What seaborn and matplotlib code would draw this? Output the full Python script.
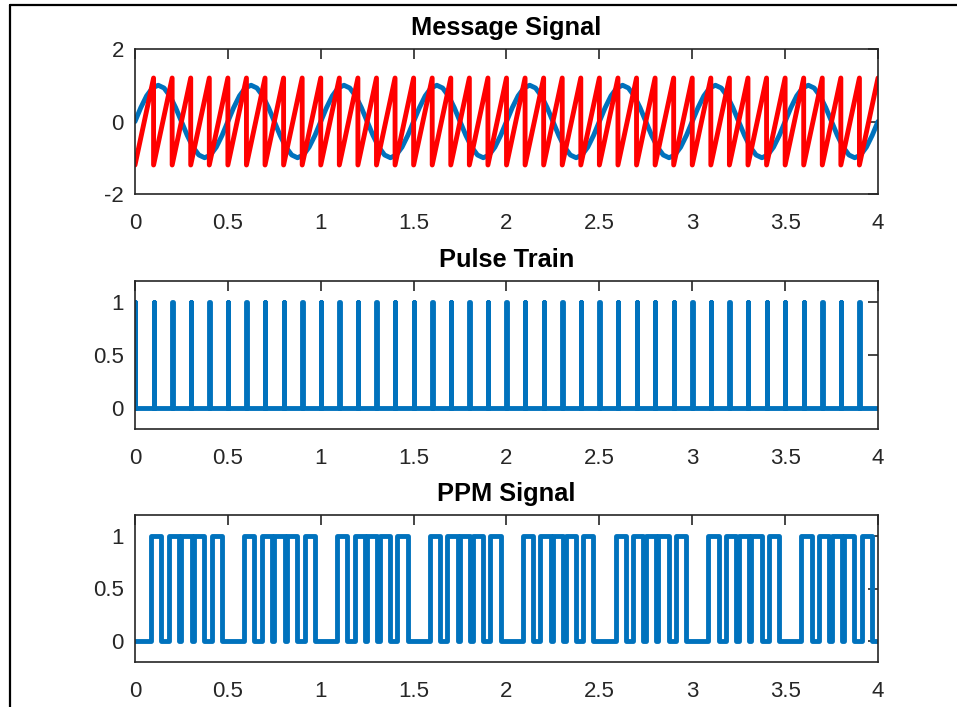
import numpy as np
import pandas as pd
import matplotlib
matplotlib.use("Agg")
import matplotlib.pyplot as plt
from matplotlib.lines import Line2D
import seaborn as sns

# ---------------- data ----------------
# Message signal, one sample every 1/32 s from t = 0 to t = 4 s
message_values = [
    0.000, 0.383, 0.707, 0.924, 1.000, 0.924, 0.707, 0.383, 0.000, -0.383, -0.707, -0.924, -1.000, -0.924, -0.707, -0.383,
    0.000, 0.383, 0.707, 0.924, 1.000, 0.924, 0.707, 0.383, 0.000, -0.383, -0.707, -0.924, -1.000, -0.924, -0.707, -0.383,
    0.000, 0.383, 0.707, 0.924, 1.000, 0.924, 0.707, 0.383, 0.000, -0.383, -0.707, -0.924, -1.000, -0.924, -0.707, -0.383,
    0.000, 0.383, 0.707, 0.924, 1.000, 0.924, 0.707, 0.383, 0.000, -0.383, -0.707, -0.924, -1.000, -0.924, -0.707, -0.383,
    0.000, 0.383, 0.707, 0.924, 1.000, 0.924, 0.707, 0.383, 0.000, -0.383, -0.707, -0.924, -1.000, -0.924, -0.707, -0.383,
    0.000, 0.383, 0.707, 0.924, 1.000, 0.924, 0.707, 0.383, 0.000, -0.383, -0.707, -0.924, -1.000, -0.924, -0.707, -0.383,
    0.000, 0.383, 0.707, 0.924, 1.000, 0.924, 0.707, 0.383, 0.000, -0.383, -0.707, -0.924, -1.000, -0.924, -0.707, -0.383,
    0.000, 0.383, 0.707, 0.924, 1.000, 0.924, 0.707, 0.383, 0.000, -0.383, -0.707, -0.924, -1.000, -0.924, -0.707, -0.383,
    0.000,
]
t_start, t_end = 0.0, 4.0

# Sawtooth carrier: tooth boundaries and levels
saw_edges = [0.0, 0.1, 0.2, 0.3, 0.4, 0.5, 0.6, 0.7, 0.8, 0.9,
             1.0, 1.1, 1.2, 1.3, 1.4, 1.5, 1.6, 1.7, 1.8, 1.9,
             2.0, 2.1, 2.2, 2.3, 2.4, 2.5, 2.6, 2.7, 2.8, 2.9,
             3.0, 3.1, 3.2, 3.3, 3.4, 3.5, 3.6, 3.7, 3.8, 3.9, 4.0]
saw_low = -1.2
saw_high = 1.2

# Pulse train: pulse instants (height 1)
pulse_times = [0.0, 0.1, 0.2, 0.3, 0.4, 0.5, 0.6, 0.7, 0.8, 0.9,
               1.0, 1.1, 1.2, 1.3, 1.4, 1.5, 1.6, 1.7, 1.8, 1.9,
               2.0, 2.1, 2.2, 2.3, 2.4, 2.5, 2.6, 2.7, 2.8, 2.9,
               3.0, 3.1, 3.2, 3.3, 3.4, 3.5, 3.6, 3.7, 3.8, 3.9]
pulse_duration = 0.002

# PPM signal: start and end time of every high pulse
ppm_starts = [0.087, 0.182, 0.250, 0.318, 0.413,
              0.587, 0.682, 0.750, 0.818, 0.913,
              1.087, 1.182, 1.250, 1.318, 1.413,
              1.587, 1.682, 1.750, 1.818, 1.913,
              2.087, 2.182, 2.250, 2.318, 2.413,
              2.587, 2.682, 2.750, 2.818, 2.913,
              3.087, 3.182, 3.250, 3.318, 3.413,
              3.587, 3.682, 3.750, 3.818, 3.913]
ppm_ends = [0.142, 0.237, 0.305, 0.373, 0.468,
            0.642, 0.737, 0.805, 0.873, 0.968,
            1.142, 1.237, 1.305, 1.373, 1.468,
            1.642, 1.737, 1.805, 1.873, 1.968,
            2.142, 2.237, 2.305, 2.373, 2.468,
            2.642, 2.737, 2.805, 2.873, 2.968,
            3.142, 3.237, 3.305, 3.373, 3.468,
            3.642, 3.737, 3.805, 3.873, 3.968]

titles = ["Message Signal", "Pulse Train", "PPM Signal"]
x_ticks = [0, 0.5, 1, 1.5, 2, 2.5, 3, 3.5, 4]
x_tick_labels = ["0", "0.5", "1", "1.5", "2", "2.5", "3", "3.5", "4"]
y_ticks_msg = [-2, 0, 2]
y_tick_labels_msg = ["-2", "0", "2"]
y_ticks_pulse = [0, 0.5, 1]
y_tick_labels_pulse = ["0", "0.5", "1"]

# ---------------- build tables ----------------
msg_df = pd.DataFrame({"t": np.linspace(t_start, t_end, len(message_values)),
                       "v": message_values})

saw_t, saw_v = [], []
for a, b in zip(saw_edges[:-1], saw_edges[1:]):
    saw_t += [a, b]
    saw_v += [saw_low, saw_high]
saw_df = pd.DataFrame({"t": saw_t, "v": saw_v})

pt, pv = [], []
for p in pulse_times:
    pt += [p, p, p + pulse_duration, p + pulse_duration]
    pv += [0, 1, 1, 0]
pt.append(t_end)
pv.append(0)
pulse_df = pd.DataFrame({"t": pt, "v": pv})

qt, qv = [t_start], [0]
for s, e in zip(ppm_starts, ppm_ends):
    qt += [s, s, e, e]
    qv += [0, 1, 1, 0]
qt.append(t_end)
qv.append(0)
ppm_df = pd.DataFrame({"t": qt, "v": qv})

# ---------------- style ----------------
sns.set_style("white")
plt.rcParams["font.family"] = ["Liberation Sans", "DejaVu Sans"]

BLUE = "#0072BD"
RED = "#FF0000"
AXC = "#262626"

W, H = 957, 707
fig = plt.figure(figsize=(W / 100, H / 100), dpi=100)
fig.patch.set_facecolor("white")

boxes = [(49, 194), (281, 429), (515, 662)]
left_px, right_px = 135, 878
axes = []
for top, bot in boxes:
    ax = fig.add_axes([left_px / W, 1 - bot / H, (right_px - left_px) / W, (bot - top) / H])
    axes.append(ax)

line_kw = dict(linewidth=3.5, sort=False, estimator=None, legend=False,
               solid_joinstyle="round", solid_capstyle="round")

sns.lineplot(data=msg_df, x="t", y="v", color=BLUE, ax=axes[0], **line_kw)
sns.lineplot(data=saw_df, x="t", y="v", color=RED, ax=axes[0], **line_kw)
sns.lineplot(data=pulse_df, x="t", y="v", color=BLUE, ax=axes[1], **line_kw)
sns.lineplot(data=ppm_df, x="t", y="v", color=BLUE, ax=axes[2], **line_kw)

ylims = [(-2, 2), (-0.2, 1.2), (-0.2, 1.2)]
yticks = [(y_ticks_msg, y_tick_labels_msg), (y_ticks_pulse, y_tick_labels_pulse),
          (y_ticks_pulse, y_tick_labels_pulse)]
for ax, title, yl, (yt, ytl) in zip(axes, titles, ylims, yticks):
    ax.set_xlim(t_start, t_end)
    ax.set_ylim(*yl)
    ax.set_xticks(x_ticks)
    ax.set_xticklabels(x_tick_labels)
    ax.set_yticks(yt)
    ax.set_yticklabels(ytl)
    ax.set_xlabel("")
    ax.set_ylabel("")
    ax.set_title(title, fontsize=18.3, fontweight="bold", color="black", pad=10)
    for sp in ax.spines.values():
        sp.set_visible(True)
        sp.set_color(AXC)
        sp.set_linewidth(1.2)
    ax.tick_params(axis="both", direction="in", length=7, width=1.2, colors=AXC,
                   top=True, right=True, labelsize=16)
    ax.tick_params(axis="x", pad=14)
    ax.tick_params(axis="y", pad=8)
    ax.set_facecolor("white")

# window frame lines (left and top)
fig.add_artist(Line2D([9.5 / W, 9.5 / W], [0, 1 - 5 / H], transform=fig.transFigure,
                      color="black", linewidth=1.6))
fig.add_artist(Line2D([9.5 / W, 1], [1 - 5 / H, 1 - 5 / H], transform=fig.transFigure,
                      color="black", linewidth=1.6))

fig.savefig("out.png", dpi=100, facecolor="white")
